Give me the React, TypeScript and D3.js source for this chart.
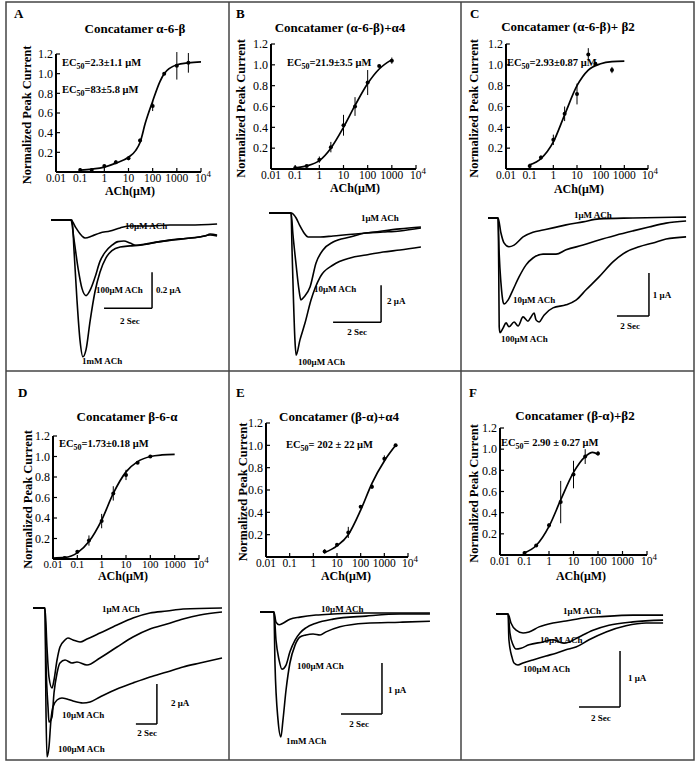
import React from 'react';
import * as d3 from 'd3';

type Pt = [number, number];
type Dose = [number, number, number]; // concentration (µM), normalized response, error

const FONT = '"Liberation Serif", "Times New Roman", Times, serif';

// shared axis ticks
const concTicks = [0.01, 0.1, 1, 10, 100, 1000, 10000];
const respTicks = [0.2, 0.4, 0.6, 0.8, 1.0, 1.2];

// ---- dose-response data ----
const doseA: Dose[] = [[0.1, 0.02, 0], [0.3, 0.02, 0.01], [1, 0.06, 0.01], [3, 0.1, 0.02], [10, 0.14, 0.02], [30, 0.32, 0.02], [100, 0.67, 0.05], [300, 1.0, 0.01], [1000, 1.08, 0.14], [3000, 1.11, 0.1]];
const fitA: Pt[] = [[0.1, 0.02], [0.3, 0.03], [1, 0.05], [3, 0.09], [10, 0.15], [20, 0.22], [30, 0.3], [50, 0.5], [100, 0.72], [200, 0.92], [300, 1.0], [1000, 1.09], [3000, 1.11], [10000, 1.12]];

const doseB: Dose[] = [[0.1, 0.01, 0], [0.3, 0.03, 0.01], [1, 0.09, 0.03], [3, 0.21, 0.05], [10, 0.42, 0.1], [30, 0.6, 0.09], [100, 0.83, 0.12], [300, 0.99, 0.01], [1000, 1.04, 0.03]];
const fitB: Pt[] = [[0.1, 0.01], [0.3, 0.03], [1, 0.08], [3, 0.2], [10, 0.4], [30, 0.61], [100, 0.82], [300, 0.96], [1000, 1.05]];

const doseC: Dose[] = [[0.1, 0.03, 0.02], [0.3, 0.11, 0.02], [1, 0.28, 0.05], [3, 0.53, 0.07], [10, 0.72, 0.1], [30, 1.1, 0.06], [60, 1.01, 0.01], [300, 0.95, 0.03]];
const fitC: Pt[] = [[0.1, 0.04], [0.3, 0.1], [1, 0.26], [3, 0.52], [10, 0.8], [30, 0.95], [100, 1.01], [300, 1.03], [1000, 1.035]];

const doseD: Dose[] = [[0.03, 0.01, 0], [0.1, 0.07, 0.01], [0.3, 0.18, 0.05], [1, 0.37, 0.07], [3, 0.64, 0.07], [10, 0.82, 0.05], [30, 0.94, 0.01], [100, 1.0, 0.01]];
const fitD: Pt[] = [[0.01, 0.01], [0.03, 0.015], [0.1, 0.06], [0.3, 0.17], [1, 0.38], [3, 0.64], [10, 0.85], [30, 0.95], [100, 1.0], [300, 1.015], [1000, 1.02]];

const doseE: Dose[] = [[3, 0.05, 0.02], [10, 0.11, 0.01], [30, 0.22, 0.05], [100, 0.45, 0.01], [300, 0.63, 0.02], [1000, 0.88, 0.03], [3000, 1.0, 0]];
const fitE: Pt[] = [[3, 0.04], [10, 0.1], [30, 0.2], [100, 0.42], [300, 0.66], [1000, 0.86], [3000, 1.0]];

const doseF: Dose[] = [[0.1, 0.02, 0], [0.3, 0.09, 0.01], [1, 0.28, 0.02], [3, 0.5, 0.2], [10, 0.76, 0.13], [30, 0.93, 0.07], [100, 0.96, 0.02]];
const fitF: Pt[] = [[0.1, 0.02], [0.3, 0.09], [1, 0.27], [3, 0.52], [10, 0.78], [30, 0.93], [60, 0.97], [100, 0.95]];

// ---- current traces: [time (s), current (µA)] ----
const traceA10: Pt[] = [[0, 0], [0.83, 0], [1.04, -0.044], [1.29, -0.089], [1.42, -0.1], [1.71, -0.089], [2.04, -0.072], [2.46, -0.061], [2.88, -0.044], [3.29, -0.033], [4.13, -0.033], [4.96, -0.028], [5.79, -0.028], [6.92, -0.022]];
const traceA100: Pt[] = [[0, 0], [0.83, 0], [0.96, -0.11], [1.13, -0.27], [1.29, -0.38], [1.46, -0.42], [1.63, -0.39], [1.83, -0.32], [2.04, -0.23], [2.25, -0.18], [2.54, -0.14], [2.79, -0.12], [3.04, -0.117], [3.29, -0.128], [3.54, -0.14], [3.92, -0.133], [4.54, -0.12], [5.17, -0.11], [5.79, -0.1], [6.42, -0.089], [6.63, -0.078], [6.92, -0.083]];
const traceA1000: Pt[] = [[0, 0], [0.88, 0], [0.96, -0.17], [1.08, -0.44], [1.21, -0.67], [1.33, -0.76], [1.46, -0.72], [1.63, -0.56], [1.83, -0.4], [2.04, -0.29], [2.29, -0.21], [2.54, -0.17], [2.88, -0.15], [3.29, -0.144], [3.71, -0.14], [4.54, -0.12], [5.38, -0.105], [6.21, -0.094], [6.63, -0.083], [6.92, -0.089]];

const traceB1: Pt[] = [[0, 0], [0.92, 0], [1.13, -0.27], [1.29, -0.7], [1.46, -1.08], [1.63, -1.3], [2.13, -1.3], [2.67, -1.24], [4.04, -1.08], [5.46, -0.86], [6.33, -0.76]];
const traceB10: Pt[] = [[0, 0], [0.92, 0], [1.0, -1.19], [1.13, -2.81], [1.25, -4.16], [1.33, -4.7], [1.46, -4.54], [1.71, -4.0], [1.96, -2.7], [2.25, -2.0], [2.67, -1.57], [3.38, -1.3], [4.04, -1.08], [4.75, -1.03], [5.46, -0.97], [6.33, -0.81]];
const traceB100: Pt[] = [[0, 0], [0.92, 0], [0.96, -2.0], [1.02, -4.7], [1.08, -6.86], [1.13, -7.68], [1.29, -6.86], [1.5, -5.95], [1.75, -4.7], [2.13, -3.46], [2.67, -2.81], [3.38, -2.43], [4.04, -2.27], [4.75, -2.11], [5.46, -2.0], [6.33, -1.84]];

const traceC1: Pt[] = [[0, 0], [0.63, 0], [0.81, -0.35], [1.0, -0.58], [1.31, -0.67], [1.63, -0.63], [2.19, -0.44], [2.81, -0.33], [3.44, -0.28], [4.06, -0.23], [4.88, -0.16], [5.94, -0.09], [6.94, -0.02], [9.06, 0], [12.38, 0.02]];
const traceC10: Pt[] = [[0, 0], [0.63, 0], [0.69, -0.74], [0.81, -1.51], [0.94, -1.95], [1.0, -2.0], [1.25, -1.91], [1.56, -1.67], [1.94, -1.37], [2.38, -1.09], [2.81, -0.93], [3.44, -0.84], [4.25, -0.84], [4.88, -0.74], [5.94, -0.63], [6.94, -0.51], [8.0, -0.4], [9.06, -0.3], [10.06, -0.21], [11.13, -0.12], [12.38, -0.07]];
const traceC100: Pt[] = [[0, 0], [0.63, 0], [0.67, -1.14], [0.7, -2.53], [0.75, -2.67], [0.94, -2.56], [1.13, -2.44], [1.31, -2.53], [1.63, -2.42], [1.88, -2.51], [2.19, -2.3], [2.5, -2.4], [2.69, -2.3], [2.88, -2.21], [3.0, -2.37], [3.19, -2.42], [3.5, -2.26], [4.06, -2.09], [4.88, -2.02], [5.5, -1.91], [6.13, -1.67], [6.94, -1.37], [7.81, -1.02], [8.63, -0.79], [9.44, -0.67], [10.31, -0.58], [11.13, -0.49], [12.38, -0.44]];

const traceD1: Pt[] = [[0, 0], [1.14, 0], [1.33, -1.95], [1.52, -3.45], [1.81, -4.0], [2.0, -3.6], [2.29, -2.6], [2.57, -1.95], [3.05, -1.6], [3.33, -1.5], [3.81, -1.6], [4.48, -1.7], [5.14, -1.55], [6.38, -1.25], [8.0, -0.85], [9.52, -0.5], [11.14, -0.25], [12.76, -0.15], [14.29, -0.05], [18.0, 0]];
const traceD10: Pt[] = [[0, 0], [1.14, 0], [1.24, -2.75], [1.43, -4.95], [1.52, -5.7], [1.81, -5.45], [2.0, -4.25], [2.29, -3.25], [2.57, -2.75], [3.05, -2.6], [3.71, -2.75], [4.19, -2.7], [5.14, -2.85], [6.38, -2.5], [8.0, -1.95], [9.52, -1.45], [11.14, -1.05], [12.76, -0.8], [14.29, -0.55], [15.9, -0.35], [18.0, -0.2]];
const traceD100: Pt[] = [[0, 0], [1.14, 0], [1.24, -5.25], [1.33, -7.45], [1.52, -6.95], [1.71, -5.6], [1.9, -4.95], [2.29, -4.6], [2.76, -4.5], [3.24, -4.55], [3.81, -4.65], [4.76, -4.75], [5.43, -4.7], [6.38, -4.45], [8.0, -4.05], [9.52, -3.75], [11.14, -3.45], [12.76, -3.2], [14.29, -2.95], [15.9, -2.75], [18.0, -2.5]];

const traceE10: Pt[] = [[0, 0], [0.68, 0], [0.78, -0.2], [0.93, -0.25], [1.12, -0.22], [1.46, -0.14], [1.95, -0.1], [2.73, -0.06], [3.56, -0.04], [5.17, -0.02], [8.29, -0.02]];
const traceE100: Pt[] = [[0, 0], [0.68, 0], [0.78, -0.55], [0.93, -0.94], [1.07, -1.12], [1.27, -1.04], [1.46, -0.78], [1.71, -0.55], [1.95, -0.41], [2.24, -0.31], [2.73, -0.22], [3.56, -0.14], [5.17, -0.08], [6.83, -0.04], [8.29, -0.04]];
const traceE1000: Pt[] = [[0, 0], [0.68, 0], [0.73, -1.0], [0.88, -2.12], [1.02, -2.45], [1.12, -2.12], [1.27, -1.53], [1.46, -1.0], [1.71, -0.65], [1.95, -0.49], [2.24, -0.45], [2.59, -0.43], [2.93, -0.45], [3.22, -0.39], [3.9, -0.29], [5.17, -0.22], [6.83, -0.2], [8.29, -0.18]];

const traceF1: Pt[] = [[0, 0], [0.59, 0], [0.73, -0.16], [0.98, -0.29], [1.32, -0.34], [1.61, -0.32], [2.1, -0.23], [2.78, -0.16], [3.41, -0.125], [4.24, -0.07], [5.02, -0.05], [6.68, -0.02], [8.15, -0.02]];
const traceF10: Pt[] = [[0, 0], [0.59, 0], [0.68, -0.34], [0.83, -0.55], [0.98, -0.625], [1.22, -0.61], [1.61, -0.55], [2.29, -0.5], [2.78, -0.46], [3.07, -0.5], [3.32, -0.52], [3.56, -0.5], [4.05, -0.41], [4.73, -0.29], [5.51, -0.2], [6.68, -0.14], [8.15, -0.11]];
const traceF100: Pt[] = [[0, 0], [0.59, 0], [0.63, -0.46], [0.78, -0.77], [0.88, -0.875], [1.07, -0.91], [1.32, -0.875], [1.8, -0.82], [2.44, -0.75], [2.93, -0.7], [3.41, -0.64], [3.9, -0.59], [4.54, -0.46], [5.37, -0.32], [6.34, -0.21], [7.32, -0.16], [8.15, -0.16]];

// ---- layout ----
interface DoseLayout {
  letter: string; title: string; ec50: string[];
  points: Dose[]; fit: Pt[];
  x0: number; x1: number; y0: number; y1: number;
  letterX: number; letterY: number; titleX: number; titleY: number;
  ecX: number; ecY: number[]; yLabX: number; xLabX: number; xLabY: number;
  tickDy: number; tickSize: number;
}

const dosePanels: DoseLayout[] = [
  { letter: 'A', title: 'Concatamer α-6-β', ec50: ['=2.3±1.1 μM', '=83±5.8 μM'], points: doseA, fit: fitA,
    x0: 56, x1: 201, y0: 172, y1: 54, letterX: 14, letterY: 18, titleX: 135, titleY: 33, ecX: 62, ecY: [66, 93], yLabX: 31, xLabX: 130, xLabY: 195, tickDy: 10, tickSize: 11.5 },
  { letter: 'B', title: 'Concatamer (α-6-β)+α4', ec50: ['=21.9±3.5 μM'], points: doseB, fit: fitB,
    x0: 271, x1: 416, y0: 169, y1: 44, letterX: 236, letterY: 18, titleX: 340, titleY: 32, ecX: 287, ecY: [66], yLabX: 245, xLabX: 355, xLabY: 192, tickDy: 10, tickSize: 11.5 },
  { letter: 'C', title: 'Concatamer (α-6-β)+ β2', ec50: ['=2.93±0.87 μM'], points: doseC, fit: fitC,
    x0: 506, x1: 648, y0: 169, y1: 44, letterX: 470, letterY: 18, titleX: 568, titleY: 31, ecX: 507, ecY: [66], yLabX: 478, xLabX: 579, xLabY: 193, tickDy: 10, tickSize: 11.5 },
  { letter: 'D', title: 'Concatamer β-6-α', ec50: ['=1.73±0.18 μM'], points: doseD, fit: fitD,
    x0: 53, x1: 199, y0: 559, y1: 436, letterX: 18, letterY: 397, titleX: 127, titleY: 421, ecX: 59, ecY: [447], yLabX: 32, xLabX: 123, xLabY: 580, tickDy: 9, tickSize: 11 },
  { letter: 'E', title: 'Concatamer (β-α)+α4', ec50: ['= 202 ± 22 μM'], points: doseE, fit: fitE,
    x0: 266, x1: 408, y0: 557, y1: 423, letterX: 236, letterY: 397, titleX: 339, titleY: 421, ecX: 286, ecY: [448], yLabX: 247, xLabX: 346, xLabY: 580, tickDy: 10, tickSize: 11.5 },
  { letter: 'F', title: 'Concatamer (β-α)+β2', ec50: ['= 2.90 ± 0.27 μM'], points: doseF, fit: fitF,
    x0: 500, x1: 647, y0: 555, y1: 428, letterX: 469, letterY: 397, titleX: 575, titleY: 420, ecX: 501, ecY: [446], yLabX: 478, xLabX: 581, xLabY: 580, tickDy: 10, tickSize: 11.5 },
];

interface TraceLayout {
  traces: Pt[][];
  x0: number; pxSec: number; base: number; pxAmp: number;
  bar: { t: number; i: number; dt: number; di: number };
  labels: [string, number, number, string][];
}

const tracePanels: TraceLayout[] = [
  { traces: [traceA10, traceA100, traceA1000], x0: 51, pxSec: 24, base: 220, pxAmp: 180,
    bar: { t: 4.21, i: -0.49, dt: 2, di: 0.2 },
    labels: [['10μM ACh', 3.08, -0.03, 'start'], ['100μM ACh', 1.875, -0.39, 'start'], ['1mM ACh', 1.29, -0.78, 'start'], ['0.2 μA', 4.375, -0.39, 'start'], ['2 Sec', 3.29, -0.56, 'middle']] },
  { traces: [traceB1, traceB10, traceB100], x0: 269, pxSec: 24, base: 213, pxAmp: 18.5,
    bar: { t: 4.67, i: -5.9, dt: 2, di: 2 },
    labels: [['1μM ACh', 3.83, -0.27, 'start'], ['10μM ACh', 1.875, -4.1, 'start'], ['100μM ACh', 1.21, -8.05, 'start'], ['2 μA', 4.92, -4.76, 'start'], ['2 Sec', 3.67, -6.4, 'middle']] },
  { traces: [traceC1, traceC10, traceC100], x0: 488, pxSec: 16, base: 218, pxAmp: 43,
    bar: { t: 10.06, i: -2.28, dt: 2, di: 1 },
    labels: [['1μM ACh', 5.375, 0.07, 'start'], ['10μM ACh', 1.56, -1.91, 'start'], ['100μM ACh', 0.81, -2.81, 'start'], ['1 μA', 10.3, -1.79, 'start'], ['2 Sec', 8.875, -2.51, 'middle']] },
  { traces: [traceD1, traceD10, traceD100], x0: 33, pxSec: 10.5, base: 608, pxAmp: 20,
    bar: { t: 11.8, i: -5.8, dt: 2, di: 2 },
    labels: [['1μM ACh', 6.57, -0.05, 'start'], ['10μM ACh', 2.76, -5.35, 'start'], ['100μM ACh', 2.38, -7.05, 'start'], ['2 μA', 13.14, -4.75, 'start'], ['2 Sec', 10.86, -6.25, 'middle']] },
  { traces: [traceE10, traceE100, traceE1000], x0: 260, pxSec: 20.5, base: 612, pxAmp: 51,
    bar: { t: 5.95, i: -2.0, dt: 2, di: 1 },
    labels: [['10μM ACh', 2.98, 0.06, 'start'], ['100μM ACh', 1.8, -1.06, 'start'], ['1mM ACh', 1.27, -2.53, 'start'], ['1 μA', 6.24, -1.53, 'start'], ['2 Sec', 4.83, -2.2, 'middle']] },
  { traces: [traceF1, traceF10, traceF100], x0: 496, pxSec: 20.5, base: 614, pxAmp: 56,
    bar: { t: 6.05, i: -1.66, dt: 2, di: 1 },
    labels: [['1μM ACh', 3.27, 0.05, 'start'], ['10μM ACh', 2.15, -0.46, 'start'], ['100μM ACh', 1.32, -0.98, 'start'], ['1 μA', 6.44, -1.14, 'start'], ['2 Sec', 5.12, -1.86, 'middle']] },
];

const DosePanel: React.FC<{ p: DoseLayout }> = ({ p }) => {
  const x = d3.scaleLog().domain([0.01, 1e4]).range([p.x0, p.x1]);
  const y = d3.scaleLinear().domain([0, 1.2]).range([p.y0, p.y1]);
  const line = d3.line<Pt>().x(d => x(d[0])).y(d => y(d[1])).curve(d3.curveMonotoneX);
  const midY = (p.y0 + p.y1) / 2 + 2;

  return (
    <g>
      <text x={p.letterX} y={p.letterY} fontSize={13} fontWeight="bold">{p.letter}</text>
      <text x={p.titleX} y={p.titleY} textAnchor="middle" fontSize={13} fontWeight="bold">{p.title}</text>

      {p.ec50.map((s, i) => (
        <text key={i} x={p.ecX} y={p.ecY[i]} fontSize={10.5} fontWeight="bold">
          EC<tspan dy={3} fontSize={8}>50</tspan><tspan dy={-3}>{s}</tspan>
        </text>
      ))}

      <path d={line(p.fit) || ''} fill="none" stroke="#000" strokeWidth={1.7} />
      {p.points.map(([c, v, e], i) => (
        <g key={i}>
          {e > 0 && <line x1={x(c)} x2={x(c)} y1={y(v - e)} y2={y(v + e)} stroke="#000" strokeWidth={1} />}
          <circle cx={x(c)} cy={y(v)} r={2} fill="#000" />
        </g>
      ))}

      {/* axes */}
      <line x1={p.x0} x2={p.x1} y1={p.y0} y2={p.y0} stroke="#000" strokeWidth={2} />
      <line x1={p.x0} x2={p.x0} y1={p.y0} y2={y(1.2)} stroke="#000" strokeWidth={2} />
      {concTicks.map(c => (
        <g key={c}>
          <line x1={x(c)} x2={x(c)} y1={p.y0} y2={p.y0 - 4} stroke="#000" strokeWidth={1.2} />
          <text x={x(c) + (c === 10000 ? 2 : 0)} y={p.y0 + p.tickDy} textAnchor="middle" fontSize={p.tickSize}>
            {c === 10000 ? <>10<tspan dy={-5} fontSize={9}>4</tspan></> : String(c)}
          </text>
        </g>
      ))}
      {respTicks.map(r => (
        <g key={r}>
          <line x1={p.x0} x2={p.x0 + 4} y1={y(r)} y2={y(r)} stroke="#000" strokeWidth={1.2} />
          <text x={p.x0 - 3} y={y(r)} dy="0.35em" textAnchor="end" fontSize={12}>{r.toFixed(1)}</text>
        </g>
      ))}

      <text transform={`translate(${p.yLabX},${midY}) rotate(-90)`} textAnchor="middle" fontSize={12.5} fontWeight="bold">
        Normalized Peak Current
      </text>
      <text x={p.xLabX} y={p.xLabY} textAnchor="middle" fontSize={12} fontWeight="bold">ACh(μM)</text>
    </g>
  );
};

const TracePanel: React.FC<{ p: TraceLayout }> = ({ p }) => {
  const x = d3.scaleLinear().domain([0, 1]).range([p.x0, p.x0 + p.pxSec]);
  const y = d3.scaleLinear().domain([0, -1]).range([p.base, p.base + p.pxAmp]);
  const line = d3.line<Pt>().x(d => x(d[0])).y(d => y(d[1])).curve(d3.curveMonotoneX);
  const b = p.bar;

  return (
    <g>
      {p.traces.map((t, i) => (
        <path key={i} d={line(t) || ''} fill="none" stroke="#000" strokeWidth={1.6} />
      ))}
      <line x1={x(b.t - b.dt)} x2={x(b.t)} y1={y(b.i)} y2={y(b.i)} stroke="#000" strokeWidth={1.5} />
      <line x1={x(b.t)} x2={x(b.t)} y1={y(b.i)} y2={y(b.i + b.di)} stroke="#000" strokeWidth={1.5} />
      {p.labels.map(([s, t, i, anchor]) => (
        <text key={s} x={x(t)} y={y(i)} dy="0.35em" textAnchor={anchor} fontSize={9} fontWeight="bold">{s}</text>
      ))}
    </g>
  );
};

const App: React.FC = () => (
  <svg width={699} height={765} fontFamily={FONT} style={{ position: 'absolute', left: 0, top: 0, background: '#fff' }}>
    <rect x={0} y={0} width={699} height={765} fill="#fff" />
    <g stroke="#444" strokeWidth={1.5} fill="none">
      <rect x={6} y={2} width={688} height={758} />
      <line x1={229} x2={229} y1={2} y2={760} />
      <line x1={461} x2={461} y1={2} y2={760} />
      <line x1={6} x2={694} y1={371} y2={371} />
    </g>
    {dosePanels.map(p => <DosePanel key={p.letter} p={p} />)}
    {tracePanels.map((p, i) => <TracePanel key={i} p={p} />)}
  </svg>
);

export default App;
